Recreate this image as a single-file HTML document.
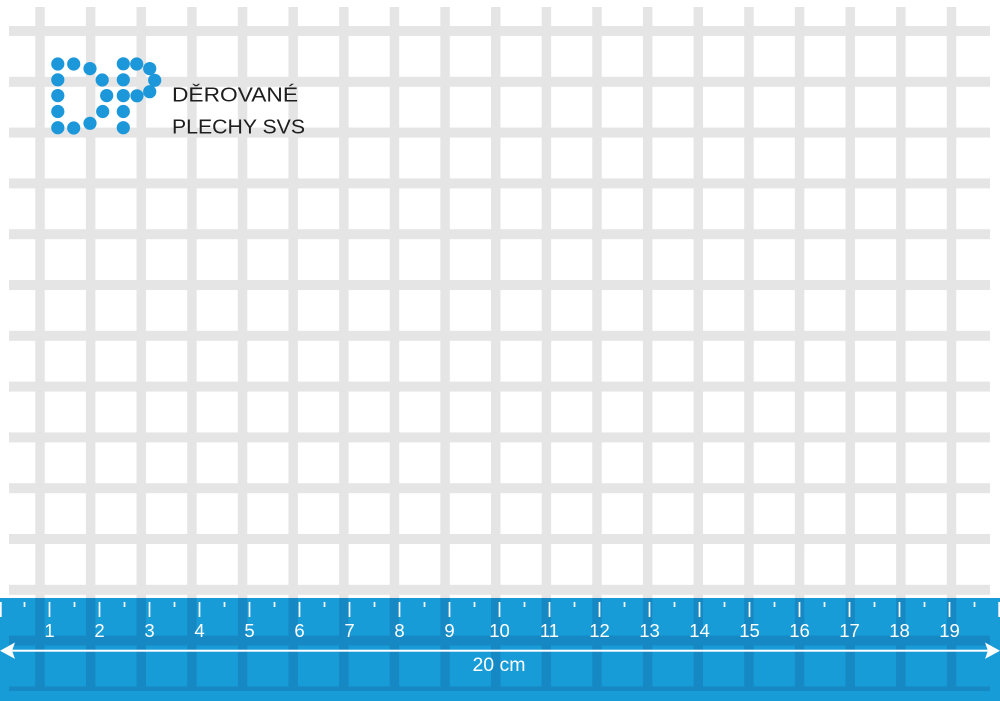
<!DOCTYPE html>
<html><head><meta charset="utf-8"><style>
html,body{margin:0;padding:0;background:#fff;}
svg{display:block;}
</style></head><body>
<svg width="1000" height="701" viewBox="0 0 1000 701" xmlns="http://www.w3.org/2000/svg">
<defs>
<pattern id="pv" patternUnits="userSpaceOnUse" x="35.25" y="0" width="50.64" height="701"><rect x="0" y="0" width="9.5" height="701" fill="#e5e5e5"/></pattern>
<pattern id="ph" patternUnits="userSpaceOnUse" x="0" y="26" width="1000" height="50.8"><rect x="0" y="0" width="1000" height="10" fill="#e5e5e5"/></pattern>
<pattern id="pvd" patternUnits="userSpaceOnUse" x="35.25" y="0" width="50.64" height="701"><rect x="0" y="0" width="9.5" height="701" fill="#1688c4"/></pattern>
<pattern id="phd" patternUnits="userSpaceOnUse" x="0" y="26" width="1000" height="50.8"><rect x="0" y="0" width="1000" height="10" fill="#1688c4"/></pattern>
<pattern id="tmaj" patternUnits="userSpaceOnUse" x="-1.35" y="0" width="50" height="701"><rect x="0" y="602" width="1.7" height="15" fill="#fff"/></pattern>
<pattern id="tmin" patternUnits="userSpaceOnUse" x="23.65" y="0" width="50" height="701"><rect x="0" y="602" width="1.7" height="5" fill="#fff"/></pattern>
</defs>
<rect width="1000" height="701" fill="#fff"/>
<rect x="35" y="7" width="922" height="591" fill="url(#pv)"/>
<rect x="9" y="26" width="981" height="572" fill="url(#ph)"/>
<rect x="0" y="598" width="1000" height="103" fill="#189cd8"/>
<rect x="35" y="598" width="922" height="93" fill="url(#pvd)"/>
<rect x="9" y="598" width="981" height="93" fill="url(#phd)"/>
<rect x="0" y="602" width="1000" height="15" fill="url(#tmaj)"/>
<rect x="0" y="602" width="1000" height="5" fill="url(#tmin)"/>
<rect x="0" y="602" width="1.7" height="15" fill="#fff"/>
<rect x="998.3" y="602" width="1.7" height="15" fill="#fff"/>
<g fill="#fff" font-family="Liberation Sans, DejaVu Sans, sans-serif" font-size="18.5" text-anchor="middle">
<text x="49.5" y="637">1</text><text x="99.5" y="637">2</text><text x="149.5" y="637">3</text><text x="199.5" y="637">4</text><text x="249.5" y="637">5</text><text x="299.5" y="637">6</text><text x="349.5" y="637">7</text><text x="399.5" y="637">8</text><text x="449.5" y="637">9</text><text x="499.5" y="637">10</text><text x="549.5" y="637">11</text><text x="599.5" y="637">12</text><text x="649.5" y="637">13</text><text x="699.5" y="637">14</text><text x="749.5" y="637">15</text><text x="799.5" y="637">16</text><text x="849.5" y="637">17</text><text x="899.5" y="637">18</text><text x="949.5" y="637">19</text>
<text x="499" y="671" font-size="19.5">20 cm</text>
</g>
<rect x="10" y="649.7" width="980" height="2" fill="#fff"/>
<path d="M0 650.7 L15 642.5 L12 650.7 L15 658.9 Z" fill="#fff"/>
<path d="M1000 650.7 L985 642.5 L988 650.7 L985 658.9 Z" fill="#fff"/>
<g fill="#1c98da">
<circle cx="57.8" cy="64" r="6.6"/><circle cx="73.7" cy="64" r="6.6"/><circle cx="90" cy="68.6" r="6.6"/><circle cx="123.3" cy="63.8" r="6.6"/><circle cx="136.7" cy="64" r="6.6"/><circle cx="149.7" cy="68.6" r="6.6"/>
<circle cx="57.8" cy="79.8" r="6.6"/><circle cx="102.2" cy="80" r="6.6"/><circle cx="123.3" cy="79.8" r="6.6"/><circle cx="154.7" cy="80.3" r="6.6"/>
<circle cx="57.8" cy="95.6" r="6.6"/><circle cx="106.7" cy="95.6" r="6.6"/><circle cx="123.3" cy="95.6" r="6.6"/><circle cx="137" cy="95.8" r="6.6"/><circle cx="149.7" cy="91.7" r="6.6"/>
<circle cx="57.8" cy="111.5" r="6.6"/><circle cx="102.7" cy="111.5" r="6.6"/><circle cx="123.3" cy="111.5" r="6.6"/>
<circle cx="57.8" cy="127.7" r="6.6"/><circle cx="73.7" cy="128" r="6.6"/><circle cx="90" cy="123.3" r="6.6"/><circle cx="123.3" cy="127.7" r="6.6"/>
</g>
<g fill="#1e1e1e" font-family="Liberation Sans, DejaVu Sans, sans-serif" font-size="20">
<text x="172" y="101.7" textLength="126" lengthAdjust="spacingAndGlyphs">DĚROVANÉ</text>
<text x="172" y="133.3" textLength="133" lengthAdjust="spacingAndGlyphs">PLECHY SVS</text>
</g>
</svg>
</body></html>
